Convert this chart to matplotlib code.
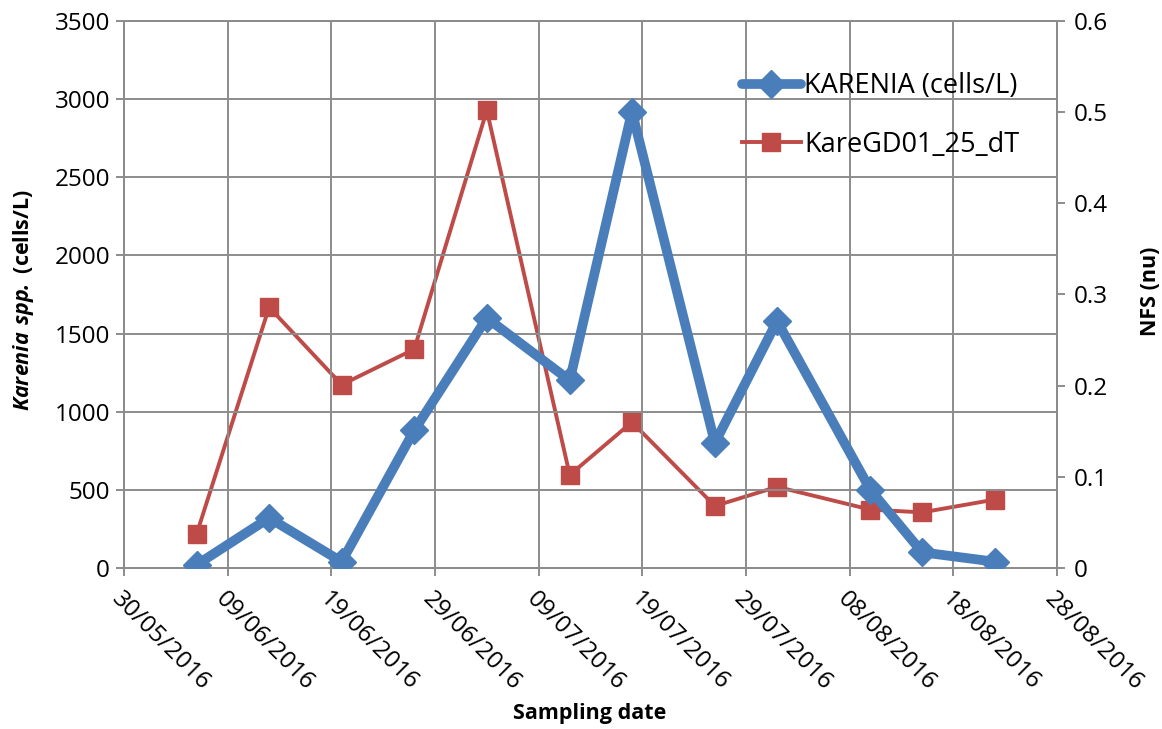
import numpy as np
import pandas as pd
import matplotlib
matplotlib.use("Agg")
import matplotlib.pyplot as plt
from matplotlib.transforms import ScaledTranslation

# Sampling data
dates = ["06/06/2016", "13/06/2016", "20/06/2016", "27/06/2016", "04/07/2016", "12/07/2016",
         "18/07/2016", "26/07/2016", "01/08/2016", "10/08/2016", "15/08/2016", "22/08/2016"]
karenia = [20, 320, 40, 880, 1600, 1200, 2920, 800, 1580, 500, 100, 40]
nfs = [0.037, 0.286, 0.201, 0.240, 0.502, 0.102, 0.160, 0.068, 0.089, 0.064, 0.061, 0.075]

x_start, x_end = "30/05/2016", "28/08/2016"

t = pd.to_datetime(dates, format="%d/%m/%Y")
t0 = pd.to_datetime(x_start, format="%d/%m/%Y")
t1 = pd.to_datetime(x_end, format="%d/%m/%Y")

plt.rcParams["font.family"] = ["Open Sans", "DejaVu Sans"]
plt.rcParams["mathtext.fontset"] = "custom"
plt.rcParams["mathtext.bfit"] = "Open Sans:bold:italic"

blue = "#4a7ebb"
red = "#be4b48"
grid_c = "#8c8c8c"

fig = plt.figure(figsize=(11.62, 7.29), dpi=100)
ax = fig.add_axes([0.1067, 0.2209, 0.8029, 0.7503])
ax2 = ax.twinx()

l1, = ax.plot(t, karenia, color=blue, lw=7, marker="D", ms=14, mec=blue, mfc=blue,
              solid_joinstyle="round", solid_capstyle="round", label="KARENIA (cells/L)", zorder=3)
l2, = ax2.plot(t, nfs, color=red, lw=2.8, marker="s", ms=13.5, mec=red, mfc=red,
               label="KareGD01_25_dT", zorder=4)

ax.set_xlim(t0, t1)
ax.set_ylim(0, 3500)
ax.set_yticks(np.arange(0, 3501, 500))
ax2.set_ylim(0, 0.6)
ax2.set_yticks(np.arange(0, 0.61, 0.1))
ax2.set_yticklabels(["0", "0.1", "0.2", "0.3", "0.4", "0.5", "0.6"])

ticks = pd.date_range(t0, t1, freq="10D")
ax.set_xticks(ticks)
ax.set_xticklabels([d.strftime("%d/%m/%Y") for d in ticks], rotation=-45,
                   ha="left", va="top", rotation_mode="anchor")
shift = ScaledTranslation(0.08, -0.02, fig.dpi_scale_trans)
for lab in ax.get_xticklabels():
    lab.set_transform(lab.get_transform() + shift)

ax.grid(True, color=grid_c, lw=1.4)
ax.set_axisbelow(True)
for a in (ax, ax2):
    for s in a.spines.values():
        s.set_color(grid_c)
        s.set_linewidth(1.4)
    a.tick_params(colors=grid_c, labelcolor="black", labelsize=17.5, width=1.4, length=6)
ax.tick_params(axis="x", pad=8)
ax.tick_params(axis="y", pad=4)
ax2.tick_params(axis="y", pad=6)

ax.set_xlabel("Sampling date", fontsize=15.5, fontweight="bold")
ax.set_ylabel(r"$\mathbfit{Karenia\ spp.}$ (cells/L)", fontsize=15.5, fontweight="bold")
ax2.set_ylabel("NFS (nu)", fontsize=15.5, fontweight="bold")
ax.xaxis.set_label_coords(0.4995, -0.247)
ax.yaxis.set_label_coords(-0.094, 0.49)
ax2.yaxis.set_label_coords(1.089, 0.505)

ax.set_zorder(ax2.get_zorder() + 1)
ax.patch.set_visible(False)

leg = ax.legend(handles=[l1, l2], loc="upper left", bbox_to_anchor=(0.662, 0.906),
                frameon=False, fontsize=19.5, handlelength=2.2, handletextpad=0.1,
                labelspacing=1.12, borderaxespad=0, borderpad=0)

fig.savefig("out.png", dpi=100)
